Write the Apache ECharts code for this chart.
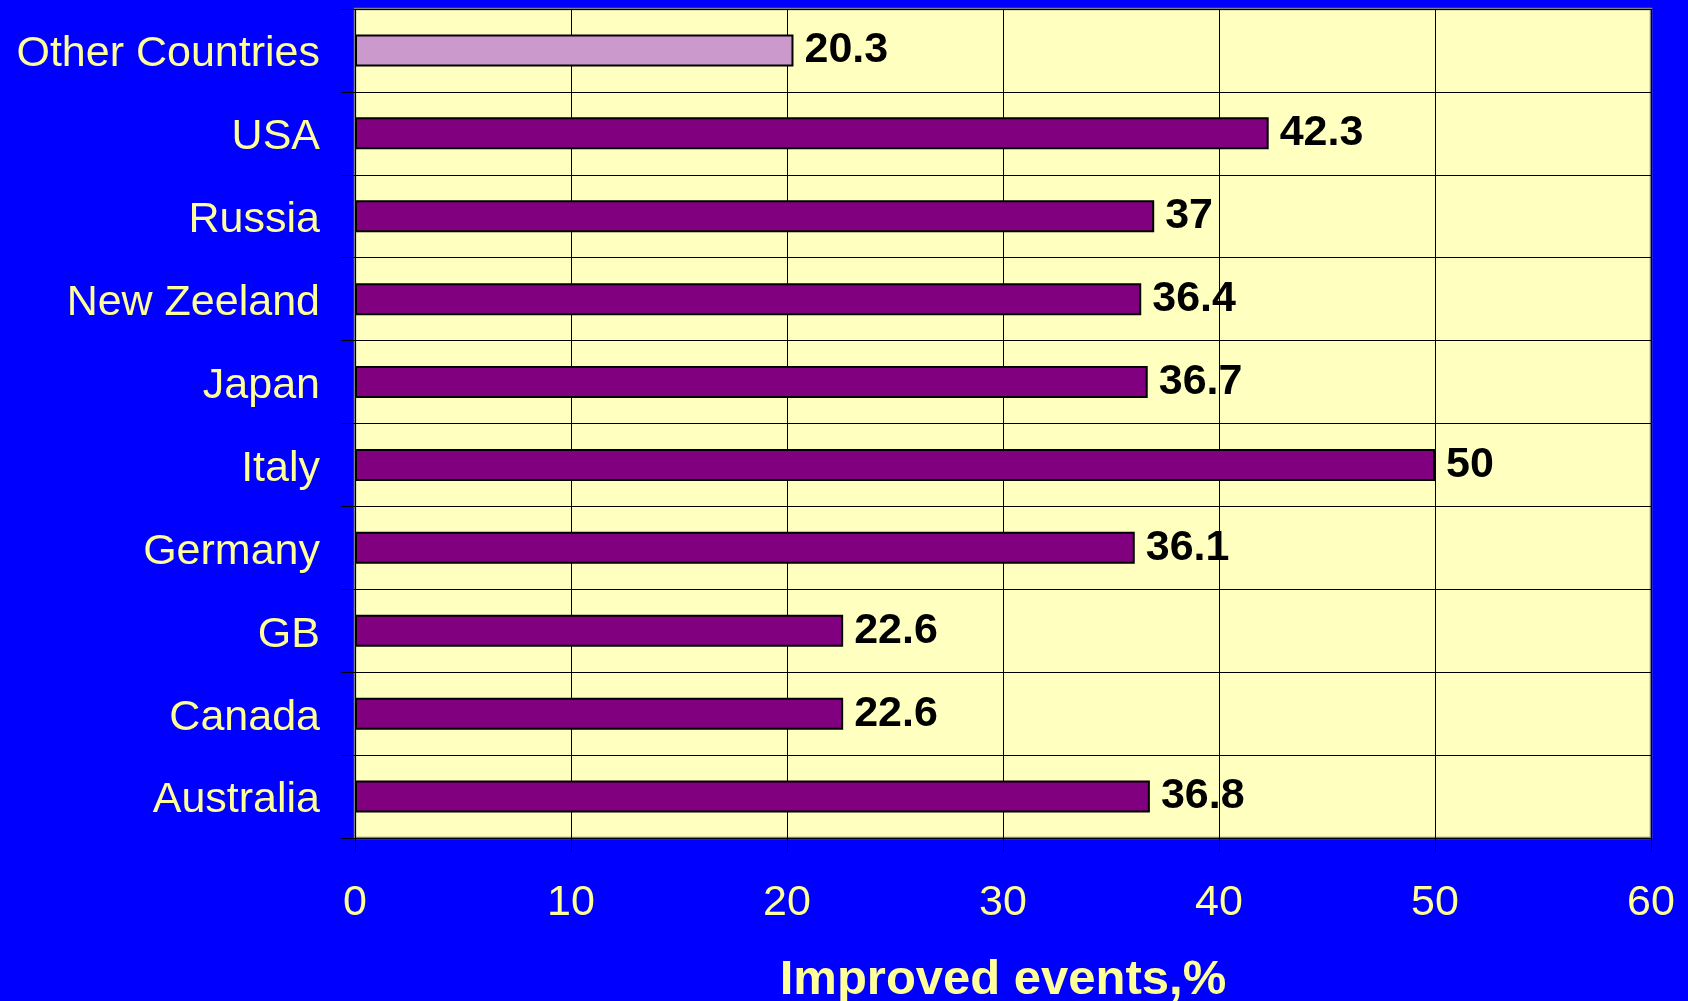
<!DOCTYPE html>
<html>
<head>
<meta charset="utf-8">
<script src="https://cdn.jsdelivr.net/npm/echarts@6/dist/echarts.min.js"></script>
<style>
html,body{margin:0;padding:0;background:#0000FF;}
#chart{width:1688px;height:1001px;}
</style>
</head>
<body>
<div id="chart"></div>
<script>
var categories = ['Other Countries','USA','Russia','New Zeeland','Japan','Italy','Germany','GB','Canada','Australia'];
var values = [20.3, 42.3, 37, 36.4, 36.7, 50, 36.1, 22.6, 22.6, 36.8];
var xTicks = [0, 10, 20, 30, 40, 50, 60];
var axisTitle = 'Improved events,%';

var FONT = '"Liberation Sans", Arial, sans-serif';
var chart = echarts.init(document.getElementById('chart'), null, {renderer: 'canvas'});
chart.setOption({
  backgroundColor: '#0000FF',
  animation: false,
  grid: {
    left: 355, right: 37, top: 9, bottom: 163,
    outerBoundsMode: 'none', containLabel: false,
    show: true, backgroundColor: '#FFFFC0', borderColor: '#808080', borderWidth: 2.5
  },
  xAxis: {
    type: 'value',
    min: xTicks[0], max: xTicks[xTicks.length - 1], interval: 10,
    axisLine: {show: false},
    axisTick: {show: true, inside: false, length: 14, lineStyle: {color: '#000', width: 1}},
    splitLine: {show: true, lineStyle: {color: '#000', width: 1}},
    axisLabel: {color: '#FFFF99', fontSize: 43, fontFamily: FONT, margin: 44},
    name: axisTitle,
    nameLocation: 'middle',
    nameGap: 118,
    nameTextStyle: {color: '#FFFF99', fontSize: 49, fontWeight: 'bold', fontFamily: FONT}
  },
  yAxis: {
    type: 'category',
    data: categories,
    inverse: true,
    axisLine: {show: false},
    axisTick: {show: true, inside: false, length: 14, lineStyle: {color: '#000', width: 1}},
    splitLine: {show: true, lineStyle: {color: '#000', width: 1}},
    axisLabel: {color: '#FFFF99', fontSize: 43, fontFamily: FONT, margin: 35, lineHeight: 56, verticalAlign: 'top', padding: [-24, 0, 0, 0]}
  },
  series: [{
    type: 'bar',
    data: values.map(function(v, i){
      return {value: v, itemStyle: {color: i === 0 ? '#CC99CC' : '#800080'}};
    }),
    barWidth: 32,
    itemStyle: {borderColor: '#000', borderWidth: 2},
    label: {
      show: true, position: 'right', distance: 11,
      color: '#000', fontSize: 43, fontWeight: 'bold', fontFamily: FONT
    }
  }]
});
</script>
</body>
</html>
